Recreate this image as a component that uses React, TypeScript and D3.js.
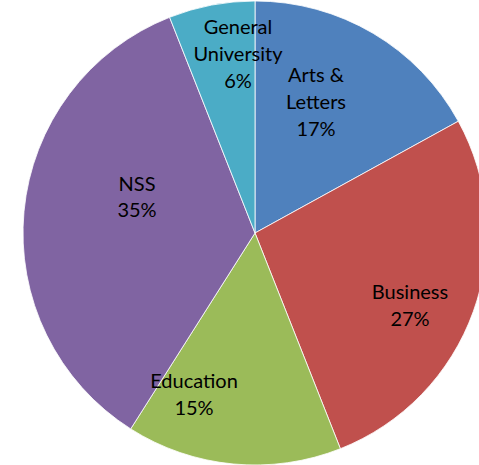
import React from "react";
import * as d3 from "d3";

const categories = ["Arts &\nLetters", "Business", "Education", "NSS", "General\nUniversity"];
const values = [17, 27, 15, 35, 6];
const colors = ["#4F81BD", "#C0504D", "#9BBB59", "#8064A2", "#4BACC6"];
// label placement: angle offset from slice mid-angle (degrees) and radius fraction
const labelAngleOffset = [-5.8, 5, 15.4, 12, 5.4];
const labelRadiusFrac = [0.627, 0.736, 0.74, 0.533, 0.78];

const W = 479;
const H = 465;
const cx = 255;
const cy = 233;
const R = 232;

export default function App() {
  const total = d3.sum(values);
  const pie = d3.pie<number>().sort(null).value((d) => d).startAngle(0).endAngle(2 * Math.PI);
  const arcs = pie(values);
  const arc = d3.arc<d3.PieArcDatum<number>>().innerRadius(0).outerRadius(R);
  const lineH = 26.8;
  return (
    <svg width={W} height={H} style={{ position: "fixed", left: 0, top: 0, background: "#fff" }}>
      <g transform={`translate(${cx},${cy})`}>
        {arcs.map((a, i) => (
          <path key={i} d={arc(a) || ""} fill={colors[i]} stroke="#fff" strokeWidth={0.8} />
        ))}
        {arcs.map((a, i) => {
          const mid = (a.startAngle + a.endAngle) / 2 + (labelAngleOffset[i] * Math.PI) / 180;
          const rr = R * labelRadiusFrac[i];
          const x = Math.sin(mid) * rr;
          const y = -Math.cos(mid) * rr;
          const lines = [...categories[i].split("\n"), `${Math.round((values[i] / total) * 100)}%`];
          const y0 = y - ((lines.length - 1) * lineH) / 2;
          return (
            <text
              key={"t" + i}
              x={x}
              y={y0}
              textAnchor="middle"
              fontFamily="Lato, 'Open Sans', sans-serif"
              fontSize={20}
              fill="#000"
            >
              {lines.map((l, j) => (
                <tspan key={j} x={x} y={y0 + j * lineH} dominantBaseline="central">
                  {l}
                </tspan>
              ))}
            </text>
          );
        })}
      </g>
    </svg>
  );
}
